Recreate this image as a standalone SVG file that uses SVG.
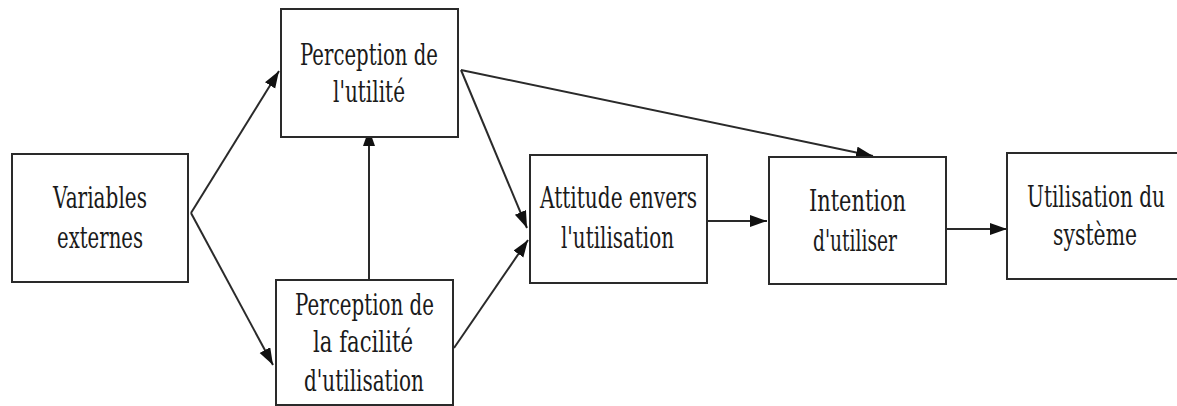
<svg xmlns="http://www.w3.org/2000/svg" width="1177" height="406" viewBox="0 0 1177 406">
  <style>
    .box { fill: #ffffff; stroke: #2a2a2a; stroke-width: 2; }
    .lbl { font-family: "DejaVu Serif", "Liberation Serif", serif; font-size: 29px; fill: #1a1a1a; }
    .edge { fill: none; stroke: #2a2a2a; stroke-width: 2; }
  </style>
  <defs>
    <marker id="arrow" markerUnits="userSpaceOnUse" markerWidth="18" markerHeight="14" refX="17" refY="6" orient="auto">
      <path d="M0,0 L17,6 L0,12 Z" fill="#111111"/>
    </marker>
  </defs>
  <rect width="1177" height="406" fill="#ffffff"/>

  <g id="connectors">
    <line class="edge" x1="191" y1="213" x2="279" y2="71" marker-end="url(#arrow)"/>
    <line class="edge" x1="191" y1="213" x2="273" y2="365" marker-end="url(#arrow)"/>
    <line class="edge" x1="369" y1="279" x2="369" y2="129" marker-end="url(#arrow)"/>
    <line class="edge" x1="461" y1="70" x2="527" y2="228" marker-end="url(#arrow)"/>
    <line class="edge" x1="461" y1="70" x2="873" y2="156" marker-end="url(#arrow)"/>
    <line class="edge" x1="454" y1="348" x2="528" y2="240" marker-end="url(#arrow)"/>
    <line class="edge" x1="708" y1="221" x2="767" y2="221" marker-end="url(#arrow)"/>
    <line class="edge" x1="947" y1="229" x2="1007" y2="229" marker-end="url(#arrow)"/>
  </g>

  <g id="variables-externes">
    <rect class="box" x="12" y="154" width="176" height="128"/>
    <text class="lbl" x="53" y="208" textLength="94" lengthAdjust="spacingAndGlyphs">Variables</text>
    <text class="lbl" x="57" y="248" textLength="86" lengthAdjust="spacingAndGlyphs">externes</text>
  </g>

  <g id="perception-utilite">
    <rect class="box" x="281" y="9" width="177" height="128"/>
    <text class="lbl" x="300" y="65" textLength="138" lengthAdjust="spacingAndGlyphs">Perception de</text>
    <text class="lbl" x="333" y="102" textLength="72" lengthAdjust="spacingAndGlyphs">l'utilité</text>
  </g>

  <g id="perception-facilite">
    <rect class="box" x="276" y="280" width="177" height="125"/>
    <text class="lbl" x="295" y="315" textLength="139" lengthAdjust="spacingAndGlyphs">Perception de</text>
    <text class="lbl" x="313" y="352" textLength="100" lengthAdjust="spacingAndGlyphs">la facilité</text>
    <text class="lbl" x="304" y="391" textLength="120" lengthAdjust="spacingAndGlyphs">d'utilisation</text>
  </g>

  <g id="attitude">
    <rect class="box" x="530" y="155" width="177" height="128"/>
    <text class="lbl" x="540" y="208" textLength="157" lengthAdjust="spacingAndGlyphs">Attitude envers</text>
    <text class="lbl" x="561" y="248" textLength="113" lengthAdjust="spacingAndGlyphs">l'utilisation</text>
  </g>

  <g id="intention">
    <rect class="box" x="769" y="157" width="177" height="127"/>
    <text class="lbl" x="809" y="211" textLength="97" lengthAdjust="spacingAndGlyphs">Intention</text>
    <text class="lbl" x="813" y="251" textLength="84" lengthAdjust="spacingAndGlyphs">d'utiliser</text>
  </g>

  <g id="utilisation-systeme">
    <rect class="box" x="1007" y="153" width="182" height="126"/>
    <text class="lbl" x="1027" y="207" textLength="138" lengthAdjust="spacingAndGlyphs">Utilisation du</text>
    <text class="lbl" x="1053" y="245" textLength="84" lengthAdjust="spacingAndGlyphs">système</text>
  </g>
</svg>
